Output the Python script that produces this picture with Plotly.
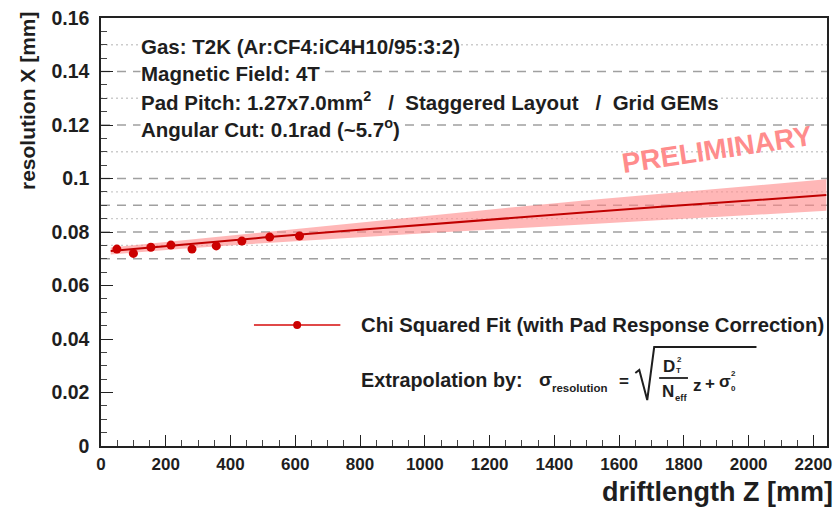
import plotly.graph_objects as go

# ---------------- data ----------------
drift_z = [49, 100, 154, 216, 281, 356, 435, 521, 613]
resolution = [0.0736, 0.0720, 0.0743, 0.0751, 0.0736, 0.0748, 0.0766, 0.0781, 0.0785]
drift_z_err = [12, 12, 12, 12, 12, 12, 12, 12, 12]
resolution_err = [0.0006, 0.0006, 0.0006, 0.0006, 0.0006, 0.0006, 0.0006, 0.0006, 0.0006]

fit_z = [30, 250, 500, 750, 1000, 1250, 1500, 1750, 2000, 2240]
fit_val = [0.0729, 0.0753, 0.0779, 0.0804, 0.0828, 0.0851, 0.0874, 0.0896, 0.0917, 0.0938]
fit_halfwidth = [0.0013, 0.0016, 0.0021, 0.0027, 0.0033, 0.0039, 0.0045, 0.0050, 0.0055, 0.0059]

grid_dashed = [0.07, 0.08, 0.09, 0.10, 0.12, 0.14]
grid_dotted = [0.075, 0.085, 0.095, 0.11, 0.13, 0.15]

x_ticks = list(range(0, 2201, 200))
y_ticks = [0, 0.02, 0.04, 0.06, 0.08, 0.1, 0.12, 0.14, 0.16]
y_tick_labels = ["0", "0.02", "0.04", "0.06", "0.08", "0.1", "0.12", "0.14", "0.16"]

NB = "\u00a0"
header_lines = [
    "Gas: T2K (Ar:CF4:iC4H10/95:3:2)",
    "Magnetic Field: 4T",
    f"Pad Pitch: 1.27x7.0mm<sup>2</sup>{NB*3}/{NB*2}Staggered Layout{NB*3}/{NB*2}Grid GEMs",
    "Angular Cut: 0.1rad (~5.7<sup>o</sup>)",
]
legend_label = "Chi Squared Fit (with Pad Response Correction)"

# ---------------- layout helpers ----------------
W, H = 839, 507
L, R, T, B = 101, 7, 18, 61
PW, PH = W - L - R, H - T - B


def PX(x):
    return (x - L) / PW


def PY(y):
    return (H - B - y) / PH


FONT = "Liberation Sans, Arial, sans-serif"
RED = "#cc0000"
DARK = "#1e1e1e"

fig = go.Figure()

upper = [v + h for v, h in zip(fit_val, fit_halfwidth)]
lower = [v - h for v, h in zip(fit_val, fit_halfwidth)]

fig.add_trace(go.Scatter(x=fit_z, y=upper, mode="lines", line=dict(width=0, color="rgba(0,0,0,0)"),
                         showlegend=False, hoverinfo="skip"))
fig.add_trace(go.Scatter(x=fit_z, y=lower, mode="lines", line=dict(width=0, color="rgba(0,0,0,0)"),
                         fill="tonexty", fillcolor="rgba(255,135,135,0.6)",
                         showlegend=False, hoverinfo="skip"))
fig.add_trace(go.Scatter(x=fit_z, y=fit_val, mode="lines", line=dict(color="#c00000", width=2),
                         showlegend=False))
fig.add_trace(go.Scatter(x=drift_z, y=resolution, mode="markers",
                         marker=dict(color=RED, size=9, line=dict(width=0)),
                         error_x=dict(type="data", array=drift_z_err, color=RED, thickness=2, width=0),
                         error_y=dict(type="data", array=resolution_err, color=RED, thickness=2, width=0),
                         showlegend=False))

shapes = []
for g in grid_dashed:
    shapes.append(dict(type="line", xref="paper", x0=0, x1=1, yref="y", y0=g, y1=g,
                       line=dict(color="#a0a0a0", width=1.3, dash="9px,7px"), layer="below"))
for g in grid_dotted:
    shapes.append(dict(type="line", xref="paper", x0=0, x1=1, yref="y", y0=g, y1=g,
                       line=dict(color="#cccccc", width=1.3, dash="2px,3px"), layer="below"))

# legend key
shapes.append(dict(type="line", xref="paper", yref="paper", x0=PX(255), x1=PX(342),
                   y0=PY(325), y1=PY(325), line=dict(color="#e04848", width=2)))
shapes.append(dict(type="circle", xref="paper", yref="paper", x0=PX(294.5), x1=PX(302.5),
                   y0=PY(321), y1=PY(329), fillcolor=RED, line=dict(color=RED, width=0)))

# sqrt sign and fraction bar
sq = [(639, 373), (643, 370), (651, 400), (658, 347), (761, 347)]
path = "M " + " L ".join(f"{PX(a):.5f},{PY(b):.5f}" for a, b in sq)
shapes.append(dict(type="path", xref="paper", yref="paper", path=path,
                   line=dict(color=DARK, width=2)))
shapes.append(dict(type="line", xref="paper", yref="paper", x0=PX(663), x1=PX(692),
                   y0=PY(378), y1=PY(378), line=dict(color=DARK, width=1.8)))

annotations = []
for i, txt in enumerate(header_lines):
    annotations.append(dict(text=txt, xref="paper", yref="paper", x=PX(140), y=PY(46 + i * 27.4),
                            xanchor="left", yanchor="middle", showarrow=False,
                            bgcolor="white", borderpad=0,
                            font=dict(family=FONT, size=20.5, color=DARK, weight="bold")))

annotations.append(dict(text=legend_label, xref="paper", yref="paper", x=PX(361), y=PY(325),
                        xanchor="left", yanchor="middle", showarrow=False,
                        font=dict(family=FONT, size=20.3, color=DARK, weight="bold")))
annotations.append(dict(text="Extrapolation by:", xref="paper", yref="paper", x=PX(361), y=PY(380),
                        xanchor="left", yanchor="middle", showarrow=False,
                        font=dict(family=FONT, size=19.8, color=DARK, weight="bold")))


def small(text, x, y, size, anchor="left"):
    annotations.append(dict(text=text, xref="paper", yref="paper", x=PX(x), y=PY(y),
                            xanchor=anchor, yanchor="middle", showarrow=False,
                            font=dict(family=FONT, size=size, color=DARK, weight="bold")))


small("σ", 540, 379, 19)
small("resolution", 553, 388, 11.5)
small("=", 621, 381, 17)
small("D", 665, 366, 17)
small("T", 678, 370, 8)
small("2", 679, 359, 8)
small("N", 664, 391, 17)
small("eff", 677, 397, 9.5)
small("z", 695, 385, 17)
small("+", 707, 383, 17)
small("σ", 721, 381, 17)
small("2", 733, 373, 8)
small("0", 733, 388, 8)

annotations.append(dict(text="PRELIMINARY", xref="paper", yref="paper", x=PX(721), y=PY(149),
                        xanchor="center", yanchor="middle", showarrow=False, textangle=-8.5,
                        font=dict(family=FONT, size=28, color="#ff8c8c", weight="bold")))

annotations.append(dict(text="resolution X [mm]", xref="paper", yref="paper", x=PX(27), y=PY(9),
                        xanchor="center", yanchor="top", showarrow=False, textangle=-90,
                        font=dict(family=FONT, size=21, color=DARK, weight="bold")))
annotations.append(dict(text="driftlength Z [mm]", xref="paper", yref="paper", x=PX(840), y=PY(492),
                        xanchor="right", yanchor="middle", showarrow=False,
                        font=dict(family=FONT, size=27, color=DARK, weight="bold")))

fig.update_layout(
    width=W, height=H,
    margin=dict(l=L, r=R, t=T, b=B, pad=0),
    plot_bgcolor="white", paper_bgcolor="white",
    showlegend=False,
    shapes=shapes, annotations=annotations,
    xaxis=dict(range=[0, 2242], tickvals=x_ticks, ticks="inside", ticklen=11, tickwidth=1.3,
               tickcolor="#222", showline=True, linecolor="#222", linewidth=1.5, mirror=True,
               showgrid=False, zeroline=False, ticklabelstandoff=2,
               tickfont=dict(family=FONT, size=17, color=DARK, weight="bold"),
               minor=dict(dtick=50, ticks="inside", ticklen=6, tickcolor="#444", showgrid=False)),
    yaxis=dict(range=[0, 0.16], tickvals=y_ticks, ticktext=y_tick_labels, ticks="inside",
               ticklen=12, tickwidth=1.3, tickcolor="#222", showline=True, linecolor="#222",
               linewidth=1.5, mirror=True, showgrid=False, zeroline=False, ticklabelstandoff=6,
               tickfont=dict(family=FONT, size=19.5, color=DARK, weight="bold"),
               minor=dict(dtick=0.005, ticks="inside", ticklen=6, tickcolor="#444", showgrid=False)),
)

fig.write_html("out.html")
